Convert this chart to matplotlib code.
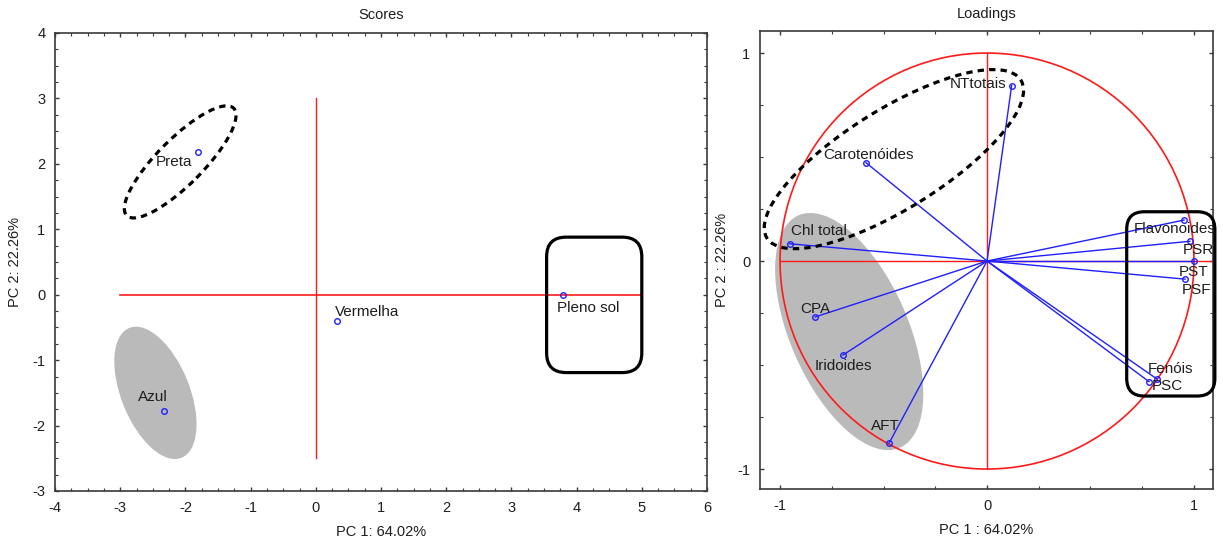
import matplotlib
matplotlib.use("Agg")
import matplotlib.pyplot as plt
from matplotlib.patches import Ellipse, Circle, FancyBboxPatch
from matplotlib.ticker import MultipleLocator

plt.rcParams['font.family'] = ['Liberation Sans', 'DejaVu Sans']
plt.rcParams['font.size'] = 10.5
plt.rcParams['axes.unicode_minus'] = False

# ---------------- data ----------------
score_names = ["Preta", "Vermelha", "Azul", "Pleno sol"]
score_pc1 = [-1.80, 0.33, -2.33, 3.79]
score_pc2 = [2.18, -0.40, -1.77, -0.01]

load_names = ["NTtotais", "Carotenóides", "Chl total", "CPA", "Iridoides", "AFT",
              "Flavonoides", "PSR", "PST", "PSF", "Fenóis", "PSC"]
load_pc1 = [0.119, -0.585, -0.953, -0.831, -0.696, -0.473,
            0.952, 0.980, 1.000, 0.957, 0.783, 0.821]
load_pc2 = [0.843, 0.473, 0.083, -0.269, -0.452, -0.875,
            0.197, 0.095, 0.000, -0.087, -0.580, -0.567]

x_label = "PC 1: 64.02%"
y_label = "PC 2: 22.26%"
x_label_l = "PC 1 : 64.02%"
y_label_l = "PC 2 : 22.26%"

# ---------------- styles / positions ----------------
score_offsets = {"Preta": (-43, -10), "Vermelha": (-2, 9),
                 "Azul": (-26, 14), "Pleno sol": (-6, -13)}
load_offsets = {"NTtotais": (-5, 2, 'right'), "Carotenóides": (-43, 8, 'left'),
                "Chl total": (1, 13, 'left'), "CPA": (-15, 8, 'left'),
                "Iridoides": (-28, -11, 'left'), "AFT": (-18, 17, 'left'),
                "Flavonoides": (-50, -9, 'left'), "PSR": (-7, -9, 'left'),
                "PST": (-15, -11, 'left'), "PSF": (-3, -11, 'left'),
                "Fenóis": (-1, 13, 'left'), "PSC": (-5, -7, 'left')}

W, H = 1223, 544
fig = plt.figure(figsize=(W / 100, H / 100), dpi=100)
ax1 = fig.add_axes([55 / W, (H - 491) / H, (707 - 55) / W, (491 - 33) / H])
ax2 = fig.add_axes([760 / W, (H - 489) / H, (1213 - 760) / W, (489 - 31) / H])

txt_col = '#1e1e1e'
frame_col = '#3a3a3a'
blue = '#1f1fff'
red = '#ff1a1a'
gray = '#bababa'
dash = (0, (2.0, 1.6))
label_fs = 11


def style_axes(ax):
    for s in ax.spines.values():
        s.set_color(frame_col)
        s.set_linewidth(1.2)
    ax.tick_params(which='both', direction='in', top=True, right=True,
                   colors=frame_col, labelcolor=txt_col, labelsize=10.5)
    ax.tick_params(which='major', length=3, width=1, pad=7)
    ax.tick_params(which='minor', length=2, width=0.8)
    ax.xaxis.set_minor_locator(MultipleLocator(0.25))
    ax.yaxis.set_minor_locator(MultipleLocator(0.25))


def place_labels(ax, xl, yl, x_center_px, y_center_px, ax_left, ax_bottom, w, h):
    ax.set_xlabel(xl, color=txt_col)
    ax.set_ylabel(yl, color=txt_col)
    ax.xaxis.label.set_va('center')
    ax.yaxis.label.set_va('center')
    ax.xaxis.set_label_coords(0.5, (ax_bottom - y_center_px) / h)
    ax.yaxis.set_label_coords((x_center_px - ax_left) / w, 0.5)


# ---------------- Scores ----------------
ax1.set_xlim(-4, 6)
ax1.set_ylim(-3, 4)
style_axes(ax1)
ax1.xaxis.set_major_locator(MultipleLocator(1))
ax1.yaxis.set_major_locator(MultipleLocator(1))

ax1.plot([-3, 5], [0, 0], color=red, lw=1.2, zorder=2)
ax1.plot([0, 0], [-2.5, 3], color=red, lw=1.0, zorder=2)

ax1.add_patch(Ellipse((-2.46, -1.50), 2.14, 1.05, angle=112, facecolor=gray,
                      edgecolor='none', zorder=1))
ax1.add_patch(Ellipse((-2.08, 2.03), 2.32, 0.70, angle=45, facecolor='none',
                      edgecolor='black', lw=2.3, linestyle=dash, zorder=3))
ax1.add_patch(FancyBboxPatch((3.54, -1.19), 5.0 - 3.54, 0.88 + 1.19,
                             boxstyle='round,pad=0,rounding_size=0.3',
                             facecolor='none', edgecolor='black', lw=2.3, zorder=3))

ax1.plot(score_pc1, score_pc2, 'o', ms=4, mfc='none', mec=blue, mew=1.0,
         ls='none', zorder=4)
for n, x, y in zip(score_names, score_pc1, score_pc2):
    dx, dy = score_offsets[n]
    ax1.annotate(n, (x, y), xytext=(dx, dy), textcoords='offset pixels',
                 ha='left', va='center', color=txt_col, fontsize=label_fs, zorder=5)

ax1.text(0.5, 1 + 18 / 458, "Scores", transform=ax1.transAxes, ha='center',
         va='center', color=txt_col, fontsize=10.5)
place_labels(ax1, x_label, y_label, 15, 532, 55, 491, 652, 458)

# ---------------- Loadings ----------------
ax2.set_xlim(-1.097, 1.092)
ax2.set_ylim(-1.096, 1.106)
style_axes(ax2)
ax2.xaxis.set_major_locator(MultipleLocator(1))
ax2.yaxis.set_major_locator(MultipleLocator(1))

ax2.add_patch(Ellipse((-0.666, -0.339), 1.22, 0.57, angle=113.7, facecolor=gray,
                      edgecolor='none', zorder=1))
ax2.add_patch(Circle((0, 0), 1.0, facecolor='none', edgecolor=red, lw=1.2, zorder=2))
ax2.plot([-1, 1.092], [0, 0], color=red, lw=1.0, zorder=2)
ax2.plot([0, 0], [-1, 1], color=red, lw=1.0, zorder=2)

for x, y in zip(load_pc1, load_pc2):
    ax2.plot([0, x], [0, y], color=blue, lw=1.0, zorder=3)
ax2.plot(load_pc1, load_pc2, 'o', ms=4, mfc='none', mec=blue, mew=1.0,
         ls='none', zorder=4)

ax2.add_patch(Ellipse((-0.45, 0.49), 1.443, 0.48, angle=31.7, facecolor='none',
                      edgecolor='black', lw=2.3, linestyle=dash, zorder=5))
ax2.add_patch(FancyBboxPatch((0.675, -0.649), 1.101 - 0.675, 0.237 + 0.649,
                             boxstyle='round,pad=0,rounding_size=0.085',
                             facecolor='none', edgecolor='black', lw=2.3,
                             zorder=5, clip_on=False))

for n, x, y in zip(load_names, load_pc1, load_pc2):
    dx, dy, ha = load_offsets[n]
    ax2.annotate(n, (x, y), xytext=(dx, dy), textcoords='offset pixels',
                 ha=ha, va='center', color=txt_col, fontsize=label_fs, zorder=6,
                 annotation_clip=False)

ax2.text(0.5, 1 + 17 / 458, "Loadings", transform=ax2.transAxes, ha='center',
         va='center', color=txt_col, fontsize=10.5)
place_labels(ax2, x_label_l, y_label_l, 722, 530, 760, 489, 453, 458)

fig.savefig("out.png", dpi=100)
